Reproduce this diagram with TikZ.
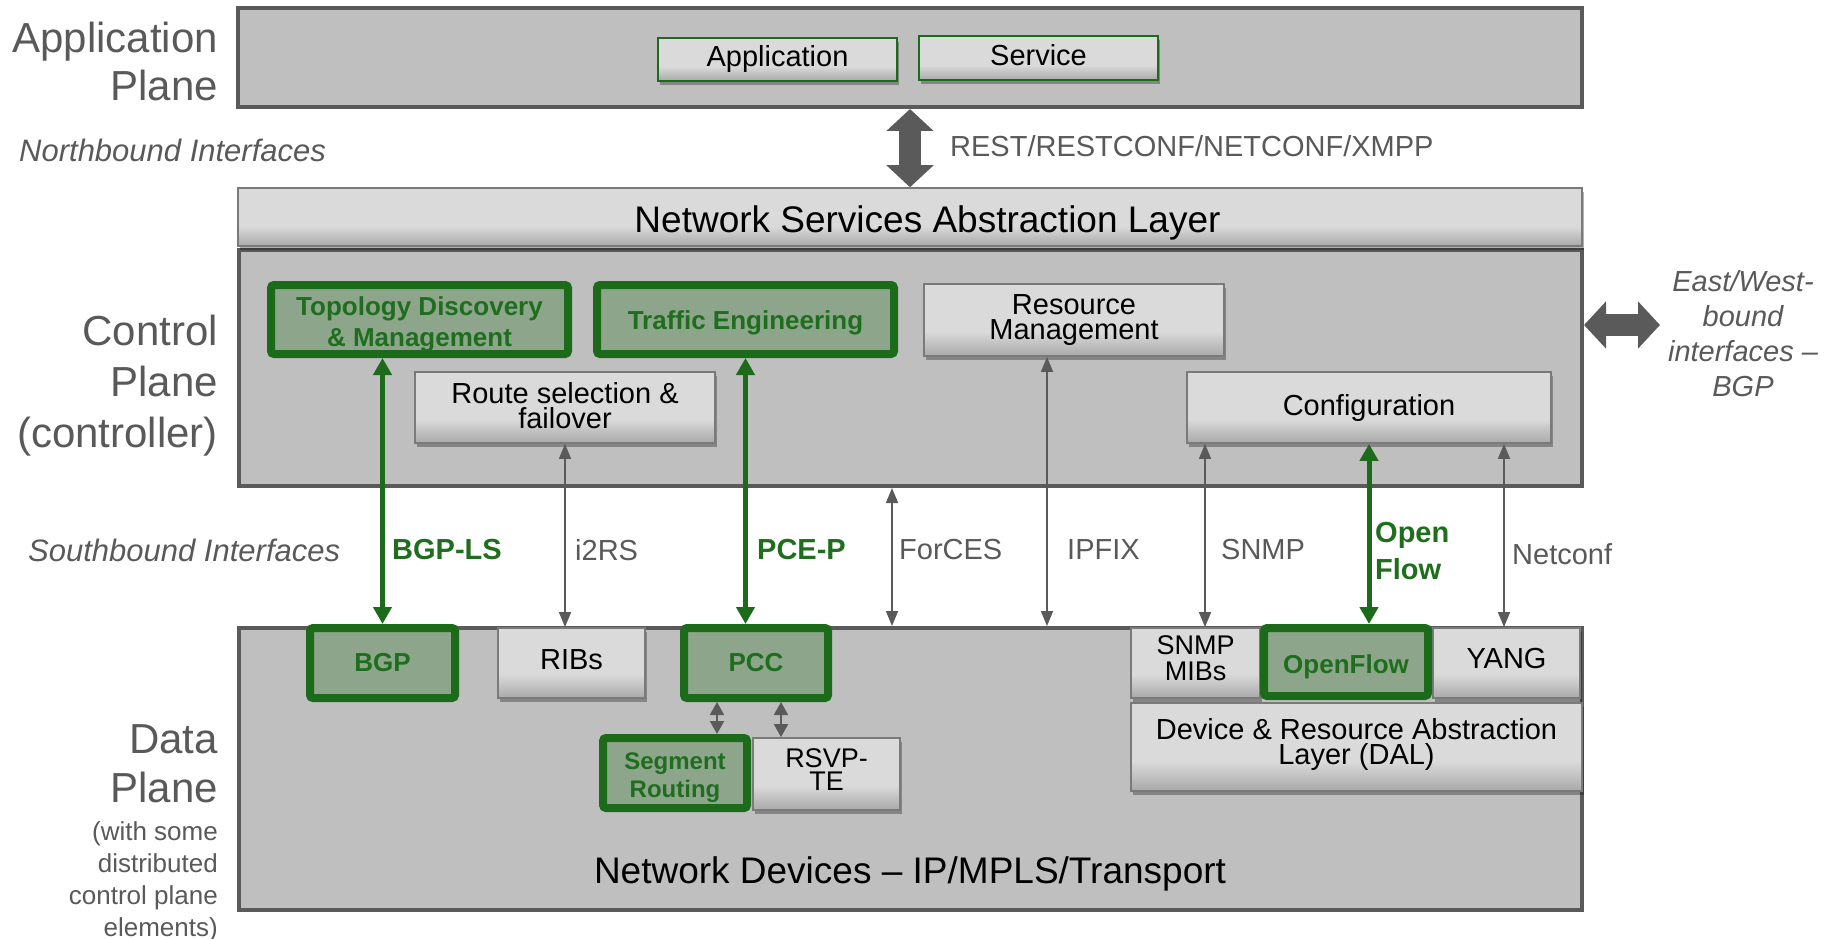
\documentclass[tikz,border=0pt]{standalone}
\usepackage{fontspec}
\setmainfont{Liberation Sans}
\usetikzlibrary{arrows.meta,shadows}
\definecolor{planefill}{HTML}{BFBFBF}
\definecolor{planeborder}{HTML}{5A5A5A}
\definecolor{boxtop}{HTML}{DADADA}
\definecolor{boxbot}{HTML}{A9A9A9}
\definecolor{boxborder}{HTML}{7A7A7A}
\definecolor{greenfill}{HTML}{8DA68B}
\definecolor{greenline}{HTML}{1B6B1B}
\definecolor{greentext}{HTML}{1E6E1E}
\definecolor{labelgray}{HTML}{595959}
\definecolor{arrowgray}{HTML}{5A5A5A}
\pgfdeclareverticalshading{boxshade}{100bp}{color(0bp)=(boxbot); color(25bp)=(boxbot); color(42bp)=(boxtop); color(100bp)=(boxtop)}
\newcommand\fsz[2]{\fontsize{#1pt}{#2pt}\selectfont}
\newcommand\tdn[1]{\rule{0pt}{#1}}
\newcommand\tup[1]{\rule[-#1]{0pt}{0pt}}
\begin{document}
\begin{tikzpicture}[x=1pt,y=-1pt,
  plane/.style={draw=planeborder, line width=4pt, fill=planefill, inner sep=0pt},
  gbox/.style={draw=boxborder, line width=1.8pt, shade, shading=boxshade,
    drop shadow={shadow xshift=1.5pt, shadow yshift=-4pt, opacity=0.3, fill=black},
    inner sep=0pt, align=center, text=black, font=\fsz{29}{25}},
  appgbox/.style={gbox, draw=greenline, line width=1.6pt},
  greenbox/.style={draw=greenline, line width=8pt, fill=greenfill, rounded corners=3pt,
    inner sep=0pt, align=center, text=greentext, font=\bfseries\fsz{26}{31},
    drop shadow={shadow xshift=1.5pt, shadow yshift=-3pt, opacity=0.25, fill=black}},
  lbl/.style={inner sep=0pt, text=labelgray},
  slbl/.style={lbl, anchor=west, font=\fsz{29}{35}},
  glbl/.style={inner sep=0pt, anchor=west, text=greentext, font=\bfseries\fsz{29}{37}, align=left},
  garrow/.style={draw=arrowgray, line width=1.6pt, {Triangle[width=12pt,length=15pt]}-{Triangle[width=12pt,length=15pt]}},
  grarrow/.style={draw=greenline, line width=5pt, {Triangle[width=18pt,length=17pt]}-{Triangle[width=18pt,length=17pt]}},
  smarrow/.style={draw=arrowgray, line width=2pt, {Triangle[width=14pt,length=13pt]}-{Triangle[width=14pt,length=13pt]}},
  bigarrow/.style={draw=arrowgray, line width=22pt, {Triangle[width=46pt,length=22pt]}-{Triangle[width=46pt,length=22pt]}}
]
\useasboundingbox (0,0) rectangle (1834,939);

% ---- planes ----
\node[plane, minimum width=1344pt, minimum height=99pt] (appplane) at (910,57.5) {};
\node[plane, minimum width=1343pt, minimum height=236pt] (ctrlplane) at (910.5,368) {};
\node[gbox, line width=1.5pt, minimum width=1344pt, minimum height=58pt, font=\fsz{37}{40}] (nsal) at (910,217) {\hspace*{35pt}\tdn{39pt}Network Services Abstraction Layer};
\node[plane, minimum width=1343pt, minimum height=282pt] (dataplane) at (910.5,769) {};
\node[inner sep=0pt, font=\fsz{37}{40}] (netdev) at (910,874) {Network Devices -- IP/MPLS/Transport};

% ---- application plane ----
\node[appgbox, minimum width=239pt, minimum height=43pt] (appbox) at (777.5,59.5) {Application};
\node[appgbox, minimum width=239pt, minimum height=44pt] (servicebox) at (1038.5,58) {Service\tup{7pt}};

% ---- control plane ----
\node[greenbox, minimum width=297pt, minimum height=69pt] (topo) at (419.5,319.5) {\tdn{28.5pt}Topology Discovery\\\& Management};
\node[greenbox, minimum width=297pt, minimum height=69pt] (te) at (745.5,319.5) {\tdn{26pt}Traffic Engineering};
\node[gbox, minimum width=300pt, minimum height=72pt] (resmgmt) at (1074,320) {Resource\\Management};
\node[gbox, minimum width=300pt, minimum height=71pt] (route) at (565,407.5) {Route selection \&\\failover\tup{4.6pt}};
\node[gbox, minimum width=364pt, minimum height=71pt] (config) at (1369,407.5) {Configuration};

% ---- data plane ----
\node[greenbox, minimum width=145pt, minimum height=70pt] (bgp) at (382.5,663) {BGP};
\node[gbox, minimum width=147pt, minimum height=70pt] (ribs) at (571.5,663) {RIBs\tup{7pt}};
\node[greenbox, minimum width=144pt, minimum height=70pt] (pcc) at (756,663) {PCC};
\node[gbox, minimum width=147pt, minimum height=72pt, font=\fsz{27}{23}] (rsvp) at (826.5,774) {RSVP-\\TE\tup{9.4pt}};
\node[greenbox, minimum width=144pt, minimum height=70pt, font=\bfseries\fsz{24}{28}] (seg) at (675,773) {\tdn{27pt}Segment\\Routing};
\node[gbox, minimum width=451pt, minimum height=88pt] (dal) at (1356.5,747) {Device \& Resource Abstraction\\Layer (DAL)\tup{12pt}};
\node[gbox, minimum width=129pt, minimum height=70pt, font=\fsz{27}{26}] (snmpmibs) at (1195.5,663) {SNMP\\MIBs\tup{9.4pt}};
\node[gbox, minimum width=147pt, minimum height=70pt] (yang) at (1506.5,663) {YANG\tup{9.4pt}};
\node[greenbox, minimum width=164pt, minimum height=68pt] (openflow) at (1346,662) {\tdn{28.5pt}OpenFlow};

% ---- left labels ----
\node[lbl, anchor=east, align=right, font=\fsz{42}{48}] (lapp) at (218,61) {Application\\Plane};
\node[lbl, anchor=east, align=right, font=\fsz{42}{51}] (lctrl) at (218,386) {Control\\Plane\\(controller)};
\node[lbl, anchor=east, align=right, font=\fsz{42}{49}] (ldata) at (218,763.5) {Data\\Plane};
\node[lbl, anchor=east, align=right, font=\fsz{26}{32}] (ldata2) at (218,881.5) {(with some\\distributed\\control plane\\elements)};
\node[lbl, anchor=west, font=\itshape\fsz{31}{35}] (north) at (19,150) {Northbound Interfaces};
\node[lbl, anchor=west, font=\itshape\fsz{31}{35}] (south) at (28,550) {Southbound Interfaces};
\node[lbl, anchor=west, font=\fsz{29}{35}] (rest) at (950,146) {REST/RESTCONF/NETCONF/XMPP};
\node[lbl, align=center, font=\itshape\fsz{29}{35}] (ewlbl) at (1743,333.5) {East/West-\\bound\\interfaces --\\BGP};

% ---- big arrows ----
\draw[bigarrow] (appplane.south) -- (nsal.north);
\coordinate (ew) at (1660,325);
\draw[bigarrow] (ctrlplane.east |- ew) -- (ew);

% ---- southbound arrows ----
\coordinate (xforces) at (892,0);
\coordinate (xipfix) at (1047,0);
\coordinate (xsnmp) at (1205,0);
\coordinate (xnetconf) at (1504,0);
\draw[grarrow] (bgp.north |- topo.south) -- (bgp.north);
\draw[garrow] (route.south) -- (route.south |- ribs.north);
\draw[grarrow] (te.south) -- (te.south |- pcc.north);
\draw[garrow] (xforces |- ctrlplane.south) -- (xforces |- dataplane.north);
\draw[garrow] (xipfix |- resmgmt.south) -- (xipfix |- dataplane.north);
\draw[garrow] (xsnmp |- config.south) -- (xsnmp |- snmpmibs.north);
\draw[grarrow] (config.south) -- (config.south |- openflow.north);
\draw[garrow] (xnetconf |- config.south) -- (xnetconf |- yang.north);

\coordinate (xs1) at (717,0);
\coordinate (xs2) at (781,0);
\draw[smarrow] (xs1 |- pcc.south) -- (xs1 |- seg.north);
\draw[smarrow] (xs2 |- pcc.south) -- (xs2 |- rsvp.north);

% ---- southbound labels ----
\node[glbl] (lbgpls) at (392,550) {BGP-LS};
\node[slbl] (li2rs) at (575,550) {i2RS};
\node[glbl] (lpcep) at (757,550) {PCE-P};
\node[slbl] (lforces) at (899,550) {ForCES};
\node[slbl] (lipfix) at (1067,550) {IPFIX};
\node[slbl] (lsnmp) at (1221,550) {SNMP};
\node[glbl] (lof) at (1375,551) {Open\\Flow};
\node[slbl] (lnetconf) at (1512,554) {Netconf};
\end{tikzpicture}
\end{document}
